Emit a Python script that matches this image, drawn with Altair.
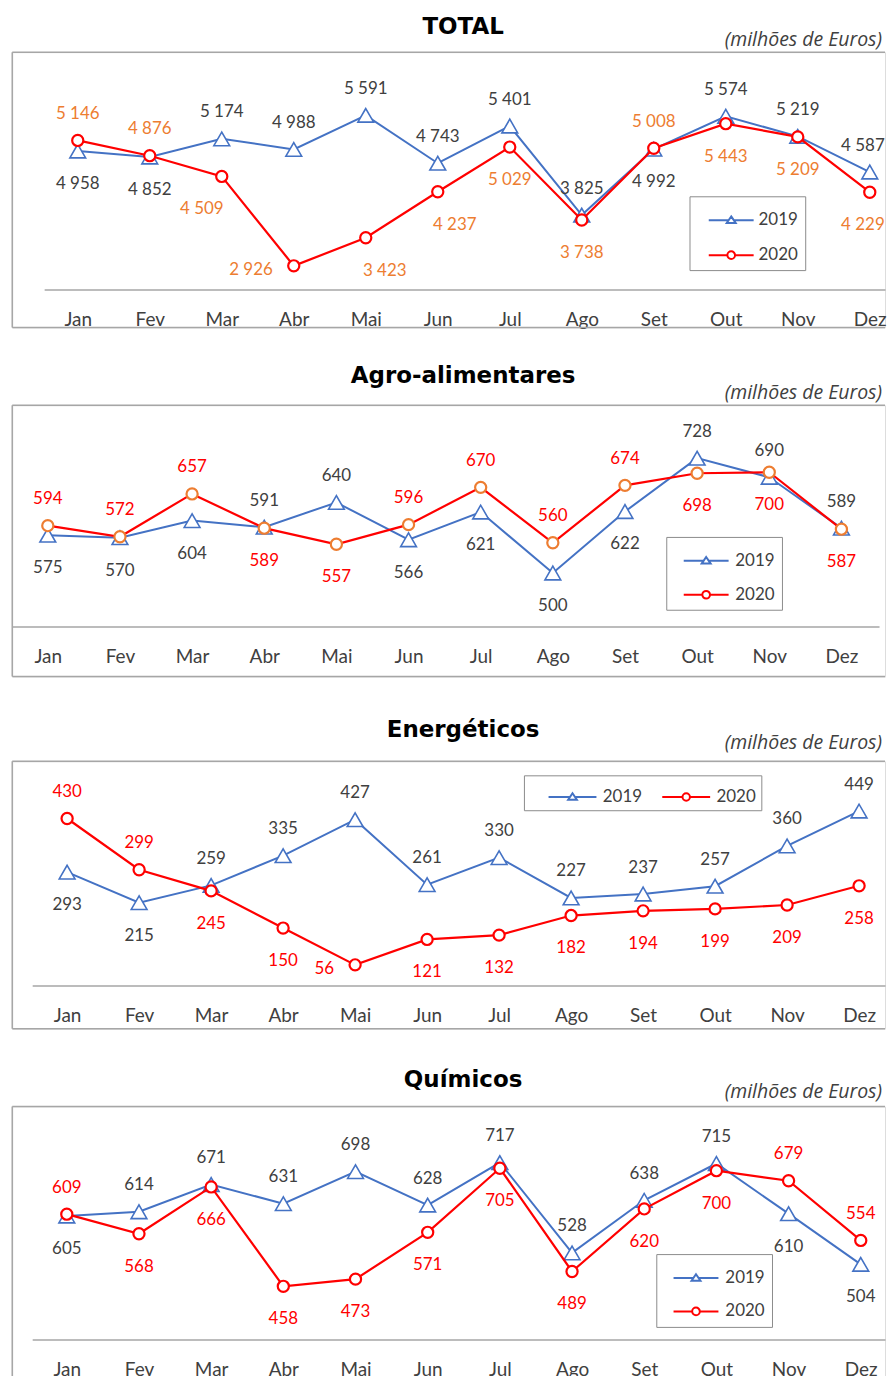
import altair as alt
import pandas as pd

months = ["Jan", "Fev", "Mar", "Abr", "Mai", "Jun", "Jul", "Ago", "Set", "Out", "Nov", "Dez"]
years = ["2019", "2020"]

total_2019 = [4958, 4852, 5174, 4988, 5591, 4743, 5401, 3825, 4992, 5574, 5219, 4587]
total_2020 = [5146, 4876, 4509, 2926, 3423, 4237, 5029, 3738, 5008, 5443, 5209, 4229]
agro_2019 = [575, 570, 604, 591, 640, 566, 621, 500, 622, 728, 690, 589]
agro_2020 = [594, 572, 657, 589, 557, 596, 670, 560, 674, 698, 700, 587]
energ_2019 = [293, 215, 259, 335, 427, 261, 330, 227, 237, 257, 360, 449]
energ_2020 = [430, 299, 245, 150, 56, 121, 132, 182, 194, 199, 209, 258]
quim_2019 = [605, 614, 671, 631, 698, 628, 717, 528, 638, 715, 610, 504]
quim_2020 = [609, 568, 666, 458, 473, 571, 705, 489, 620, 700, 679, 554]

unit_text = "(milhões de Euros)"

BLUE = "#4472C4"
RED = "#FF0000"
ORANGE = "#ED7D31"
DARK = "#404040"
BORDER = "#A6A6A6"
FONT = "Lato"
W = 875

# label placement styles (offsets in px relative to the point)
PLACE = {
    "above": dict(dy=-26.5, align="center"),
    "below": dict(dy=33, align="center"),
    "left": dict(dx=-21, dy=4.5, align="right"),
    "above_edge": dict(dy=-26.5, dx=15, align="right"),
    "below_edge": dict(dy=33, dx=15, align="right"),
}


def tri_path(cx, L):
    return (f"M{cx-L:.3f},0H{cx-0.15:.3f}M{cx+0.15:.3f},0H{cx+L:.3f}"
            f"M{cx:.3f},-0.24L{cx+0.28:.3f},0.17L{cx-0.28:.3f},0.17Z")


def circ_path(cx, L, r=0.24):
    return (f"M{cx-L:.3f},0H{cx-r:.3f}M{cx+r:.3f},0H{cx+L:.3f}"
            f"M{cx-r:.3f},0A{r},{r} 0 1,0 {cx+r:.3f},0A{r},{r} 0 1,0 {cx-r:.3f},0Z")


one = pd.DataFrame({"k": [0]})


def panel(cfg):
    v19, v20 = cfg["v19"], cfg["v20"]
    rows = []
    for i, m in enumerate(months):
        a, b = v19[i], v20[i]
        s19, s20 = ("above", "below") if a >= b else ("below", "above")
        for yr, val, s in (("2019", a, s19), ("2020", b, s20)):
            o = cfg["over"].get((m, yr), s)
            side, ndx = (o if isinstance(o, tuple) else (o, 0))
            rows.append(dict(month=m, year=yr, value=val, side=side, ndx=ndx))
    df = pd.DataFrame(rows)
    H, ay = cfg["height"], cfg["axis_y"]

    base = alt.Chart(df).encode(
        x=alt.X("month:N", sort=months, title=None,
                scale=alt.Scale(type="point", range=cfg["xrange"], padding=cfg["xpad"], align=cfg["xalign"]),
                axis=alt.Axis(orient="bottom", offset=-(H - ay), domainColor=BORDER, domainWidth=1.5,
                              ticks=False, tickSize=0, labelPadding=21, labelFont=FONT, labelFontSize=19,
                              labelColor=DARK, labelAngle=0, grid=False)),
        y=alt.Y("value:Q", axis=None,
                scale=alt.Scale(domain=cfg["ydom"], range=[ay, 0], nice=False, zero=False)),
    )
    f19 = alt.datum.year == "2019"
    f20 = alt.datum.year == "2020"
    line19 = base.transform_filter(f19).mark_line(color=BLUE, strokeWidth=2)
    pts19 = base.transform_filter(f19).mark_point(shape="triangle-up", size=250, filled=True, fill="white",
                                                  stroke=BLUE, strokeWidth=1.6, opacity=1)
    line20 = base.transform_filter(f20).mark_line(color=RED, strokeWidth=2.2)
    pts20 = base.transform_filter(f20).mark_point(shape="circle", size=125, filled=True, fill="white",
                                                  stroke=cfg["m20"], strokeWidth=2.2, opacity=1)

    lab = base.transform_calculate(label="replace(format(datum.value, ','), ',', ' ')")
    texts = []
    combos = sorted(set(zip(df["year"], df["side"], df["ndx"])))
    for yr, side, ndx in combos:
        col = DARK if yr == "2019" else cfg["l20"]
        kw = dict(PLACE[side])
        kw["dx"] = kw.get("dx", 0) + ndx
        texts.append(
            lab.transform_filter((alt.datum.year == yr) & (alt.datum.side == side) & (alt.datum.ndx == ndx))
            .mark_text(font=FONT, fontSize=17, color=col, baseline="middle", clip=True, **kw)
            .encode(text="label:N"))

    lg = cfg["legend"]
    d = lg["d"]
    half = d / 2
    leg = alt.Legend(title=None, orient="none", legendX=lg["x"], legendY=lg["y"],
                     direction=lg["dir"], columns=lg["cols"], symbolSize=d * d,
                     labelFont=FONT, labelFontSize=17, labelColor=DARK, labelOffset=lg["lo"],
                     padding=lg["pad"], rowPadding=lg["rp"], columnPadding=lg["cp"],
                     strokeColor="#8C8C8C", fillColor="white", symbolStrokeWidth=2,
                     labelExpr=lg["expr"])
    cx = lg["shift"] / half
    L = lg["len"] / 2 / half
    legend_layer = base.transform_filter("false").mark_point(filled=False, strokeWidth=2, opacity=1).encode(
        color=alt.Color("year:N", scale=alt.Scale(domain=years, range=[BLUE, RED]), legend=leg),
        shape=alt.Shape("year:N", scale=alt.Scale(domain=years, range=[tri_path(cx, L), circ_path(cx, L)]),
                        legend=leg),
    )

    title = alt.Chart(pd.DataFrame({"t": [cfg["title"]]})).mark_text(
        font="DejaVu Sans", fontSize=23, fontWeight="bold", color="black", align="center", baseline="middle"
    ).encode(x=alt.value(452), y=alt.value(cfg["ty"]), text="t:N")
    sub = alt.Chart(pd.DataFrame({"t": [unit_text]})).mark_text(
        font="Open Sans", fontSize=19.5, fontStyle="italic", color=DARK, align="right", baseline="middle"
    ).encode(x=alt.value(872), y=alt.value(cfg["sy"]), text="t:N")

    # frame (top, left, bottom) and invisible spacers fixing the gaps between panels
    fr = alt.Chart(one).mark_rule(color=BORDER, strokeWidth=1.5)
    f_top = fr.encode(x=alt.value(0), x2=alt.value(W), y=alt.value(0))
    f_left = fr.encode(x=alt.value(0), y=alt.value(0), y2=alt.value(H))
    f_bot = fr.encode(x=alt.value(0), x2=alt.value(W), y=alt.value(H))
    sp = alt.Chart(one).mark_rule(color="white", strokeWidth=1)
    sp_top = sp.encode(x=alt.value(1), x2=alt.value(2), y=alt.value(-cfg["gap"]))
    sp_bot = sp.encode(x=alt.value(1), x2=alt.value(2), y=alt.value(H + 10))

    return alt.layer(sp_top, sp_bot, f_top, f_left, f_bot, line19, pts19, line20, pts20, *texts,
                     legend_layer, title, sub).properties(width=W, height=H)


def vleg(x, y, shift, lo, rp):
    return dict(x=x, y=y, dir="vertical", cols=1, d=32, pad=7, cp=0, rp=rp,
                shift=shift, len=45, lo=lo, expr="datum.label")


p1 = panel(dict(title="TOTAL", v19=total_2019, v20=total_2020, m20=RED, l20=ORANGE,
                height=276, axis_y=238, ydom=[2506, 6709], xrange=[32, 875], xpad=0.339, xalign=0.688,
                over={("Mar", "2020"): ("below", -20), ("Abr", "2020"): "left",
                      ("Mai", "2020"): ("below", 19), ("Jun", "2020"): ("below", 17),
                      ("Dez", "2019"): "above_edge", ("Dez", "2020"): "below_edge"},
                ty=-25, sy=-12.5, gap=50,
                legend=vleg(679, 144.5, 17.8, 28.2, 10)))
p2 = panel(dict(title="Agro-alimentares", v19=agro_2019, v20=agro_2020, m20=ORANGE, l20=RED,
                height=272, axis_y=221.7, ydom=[394, 833], xrange=[0, 869], xpad=0.507, xalign=0.486,
                over={("Nov", "2019"): "above", ("Nov", "2020"): "below"}, ty=-29, sy=-12.5, gap=65.5,
                legend=vleg(655.7, 132, 16, 28.2, 9)))
p3 = panel(dict(title="Energéticos", v19=energ_2019, v20=energ_2020, m20=RED, l20=RED,
                height=268, axis_y=224.7, ydom=[3.3, 576], xrange=[20, 875], xpad=0.4226, xalign=0.574,
                over={("Mai", "2020"): "left"}, ty=-31.5, sy=-18.5, gap=73,
                legend=dict(x=513, y=14, dir="horizontal", cols=2, d=31, pad=5, cp=-9.6, rp=2,
                            shift=27.2, len=48, lo=41,
                            expr="datum.label + '\u00a0\u00a0'")))
p4 = panel(dict(title="Químicos", v19=quim_2019, v20=quim_2020, m20=RED, l20=RED,
                height=280, axis_y=233.7, ydom=[346.5, 834.4], xrange=[20, 875], xpad=0.4077, xalign=0.588,
                over={}, ty=-27, sy=-14, gap=65.5,
                legend=vleg(645.7, 148, 15.8, 28.2, 8.5)))

chart = alt.vconcat(p1, p2, p3, p4, spacing=0, bounds="full").resolve_scale(
    color="independent", shape="independent"
).resolve_legend(color="independent", shape="independent").properties(
    padding={"left": 2.25, "top": -8.5, "right": 0, "bottom": 0}
).configure_view(stroke=None).configure(background="white")

chart.save("out.html", embed_options={"renderer": "svg", "actions": False})
